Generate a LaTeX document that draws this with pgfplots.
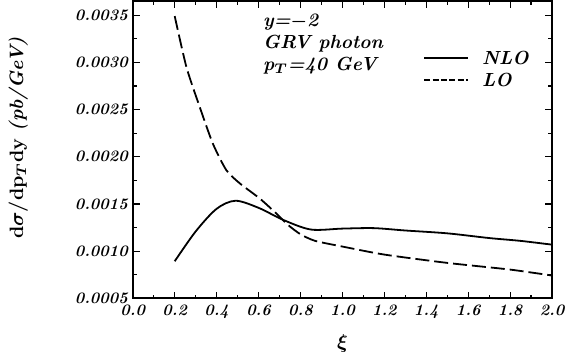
\documentclass[border=0pt]{standalone}
\usepackage{bm}
\usepackage{pgfplots}
\pgfplotsset{compat=1.18}
\begin{document}
\begin{tikzpicture}
\begin{axis}[
  scale only axis, width=210pt, height=149pt,
  xmin=0, xmax=2.0, ymin=0.0005, ymax=0.00365,
  xtick={0,0.2,...,2.0}, ytick={0.0005,0.0010,...,0.0035},
  minor x tick num=1, minor y tick num=1,
  scaled y ticks=false,
  xticklabel style={/pgf/number format/fixed, /pgf/number format/precision=1, /pgf/number format/fixed zerofill, yshift=0.5pt},
  yticklabel style={/pgf/number format/fixed, /pgf/number format/precision=4, /pgf/number format/fixed zerofill, xshift=1pt},
  /pgf/number format/assume math mode=true,
  tick label style={font=\fontsize{8}{9}\selectfont\bfseries\itshape},
  axis line style={line width=1pt},
  major tick length=3.5pt, minor tick length=2pt,
  tick style={line width=0.6pt, black},
  xlabel={$\bm{\xi}$},
  xlabel style={font=\fontsize{10}{11}\selectfont, yshift=-1.5pt},
  ylabel={\bfseries d$\bm{\sigma}$/dp$_{\bm{T}}$dy \itshape (pb/GeV)},
  ylabel style={font=\fontsize{9.7}{12}\selectfont, at={(axis description cs:0,0.54)}, anchor=south, yshift=49pt},
  clip=false,
]
\addplot[black, line width=0.9pt, smooth, tension=0.5] coordinates {
(0.2,0.000894) (0.3,0.00121) (0.4,0.00145) (0.49,0.001535) (0.6,0.00146) (0.72,0.00133) (0.85,0.00123) (1.0,0.00124) (1.15,0.001245) (1.3,0.00122) (1.5,0.00119) (1.7,0.00114) (1.85,0.00111) (2.0,0.00107)
};
\addplot[black, line width=0.9pt, dash pattern=on 7pt off 2.5pt, smooth, tension=0.4] coordinates {
(0.2,0.00349) (0.256,0.00295) (0.319,0.00253) (0.382,0.00214) (0.446,0.00186) (0.51,0.00172) (0.605,0.00156) (0.68,0.00141) (0.74,0.00128) (0.80,0.00118) (0.87,0.00111) (1.0,0.00105) (1.2,0.000965) (1.5,0.000877) (1.8,0.000806) (2.0,0.000743)
};
\node[anchor=north west, align=left, font=\fontsize{9.5}{11}\selectfont\bfseries\itshape, inner sep=0pt] at (axis cs:0.62,0.00352) {y=$\bm{-}$2\\GRV photon\\p$_{\bm{T}}$=40 GeV};
\draw[line width=0.9pt] (axis cs:1.39,0.003045) -- (axis cs:1.60,0.003045);
\draw[line width=0.9pt, dash pattern=on 3pt off 1.2pt] (axis cs:1.39,0.00281) -- (axis cs:1.60,0.00281);
\node[anchor=west, font=\fontsize{9.5}{9}\selectfont\bfseries\itshape, inner sep=0pt] at (axis cs:1.665,0.003045) {NLO};
\node[anchor=west, font=\fontsize{9.5}{9}\selectfont\bfseries\itshape, inner sep=0pt] at (axis cs:1.665,0.00281) {LO};
\end{axis}
\pgfresetboundingbox
\path ([shift={(-66.5pt,-30.5pt)}]current axis.south west) rectangle ([shift={(13.5pt,0.5pt)}]current axis.north east);
\end{tikzpicture}
\end{document}
